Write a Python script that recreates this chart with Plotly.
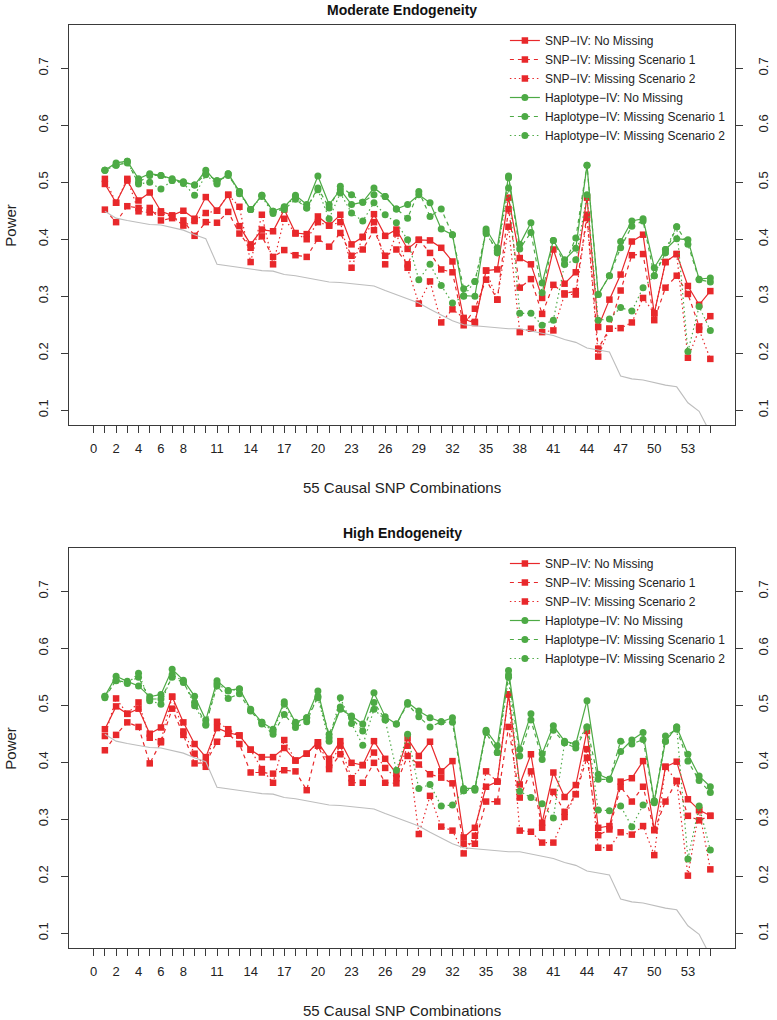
import plotly.graph_objects as go

# ---------------- data ----------------
x_combo = list(range(1, 56))
x_tick_vals = list(range(0, 56))
x_tick_shown = [0, 2, 4, 6, 8, 11, 14, 17, 20, 23, 26, 29, 32, 35, 38, 41, 44, 47, 50, 53]
y_tick_vals = [0.1, 0.2, 0.3, 0.4, 0.5, 0.6, 0.7]

series_names = ["SNP\u2212IV: No Missing", "SNP\u2212IV: Missing Scenario 1", "SNP\u2212IV: Missing Scenario 2",
                "Haplotype\u2212IV: No Missing", "Haplotype\u2212IV: Missing Scenario 1", "Haplotype\u2212IV: Missing Scenario 2"]

reference_line = [0.449, 0.437, 0.433, 0.429, 0.426, 0.425, 0.421, 0.416, 0.408, 0.401,
                  0.356, 0.353, 0.350, 0.347, 0.345, 0.344, 0.338, 0.336, 0.332, 0.329,
                  0.325, 0.324, 0.322, 0.320, 0.318, 0.310, 0.303, 0.296, 0.288, 0.277,
                  0.267, 0.257, 0.250, 0.248, 0.246, 0.245, 0.243, 0.243, 0.239, 0.234,
                  0.231, 0.224, 0.219, 0.209, 0.205, 0.202, 0.160, 0.155, 0.153, 0.148,
                  0.144, 0.141, 0.113, 0.098, 0.060]

# Moderate endogeneity
mod_snp_none = [0.497, 0.464, 0.503, 0.468, 0.482, 0.449, 0.442, 0.450, 0.436, 0.474, 0.450, 0.478,
                0.423, 0.391, 0.417, 0.414, 0.452,
                0.411, 0.409, 0.440, 0.424, 0.443, 0.391, 0.404, 0.444, 0.406, 0.417, 0.383, 0.399, 0.398, 0.385, 0.361, 0.260, 0.253, 0.345, 0.347, 0.473,
                0.367, 0.356, 0.297, 0.382, 0.322, 0.342, 0.473, 0.246, 0.294, 0.338, 0.396, 0.408, 0.270, 0.360, 0.374, 0.318, 0.285, 0.309]
mod_snp_s1 = [0.452, 0.430, 0.458, 0.455, 0.455, 0.433, 0.437, 0.433, 0.406, 0.430, 0.429, 0.448,
              0.410, 0.385, 0.405, 0.369, 0.381,
              0.372, 0.369, 0.401, 0.387, 0.411, 0.371, 0.382, 0.416, 0.371, 0.382, 0.356, 0.399, 0.376, 0.347, 0.342, 0.249, 0.278, 0.329, 0.294, 0.453,
              0.315, 0.330, 0.269, 0.320, 0.305, 0.309, 0.443, 0.208, 0.243, 0.310, 0.372, 0.374, 0.258, 0.315, 0.336, 0.304, 0.247, 0.265]
mod_snp_s2 = [0.506, 0.464, 0.506, 0.449, 0.447, 0.446, 0.440, 0.424, 0.432, 0.446, 0.450, 0.478,
              0.457, 0.360, 0.443, 0.356, 0.436,
              0.410, 0.400, 0.430, 0.424, 0.430, 0.350, 0.404, 0.430, 0.356, 0.410, 0.350, 0.287, 0.326, 0.254, 0.277, 0.262, 0.255, 0.345, 0.294, 0.422,
              0.237, 0.243, 0.237, 0.240, 0.303, 0.303, 0.437, 0.194, 0.243, 0.244, 0.254, 0.297, 0.270, 0.360, 0.374, 0.192, 0.241, 0.190]
mod_hap_none = [0.521, 0.534, 0.537, 0.506, 0.515, 0.512, 0.506, 0.501, 0.495, 0.521, 0.499, 0.515, 0.484, 0.452, 0.477, 0.449, 0.457,
                0.477, 0.461, 0.511, 0.461, 0.487, 0.461, 0.465, 0.490, 0.475, 0.453, 0.461, 0.478, 0.464, 0.418, 0.408, 0.301, 0.300, 0.418, 0.385, 0.511,
                0.391, 0.429, 0.323, 0.398, 0.364, 0.384, 0.530, 0.303, 0.336, 0.396, 0.432, 0.436, 0.350, 0.382, 0.401, 0.399, 0.330, 0.332]
mod_hap_s1 = [0.521, 0.530, 0.534, 0.500, 0.512, 0.512, 0.503, 0.500, 0.495, 0.515, 0.503, 0.512, 0.484, 0.452, 0.477, 0.449, 0.452,
              0.470, 0.455, 0.490, 0.455, 0.493, 0.478, 0.465, 0.478, 0.475, 0.453, 0.437, 0.484, 0.440, 0.453, 0.408, 0.313, 0.326, 0.414, 0.376, 0.508,
              0.383, 0.412, 0.306, 0.398, 0.356, 0.402, 0.530, 0.303, 0.336, 0.385, 0.423, 0.432, 0.336, 0.376, 0.422, 0.391, 0.329, 0.325]
mod_hap_s2 = [0.521, 0.530, 0.537, 0.497, 0.500, 0.488, 0.503, 0.498, 0.477, 0.513, 0.497, 0.515, 0.480, 0.452, 0.475, 0.445, 0.456,
              0.475, 0.455, 0.487, 0.436, 0.481, 0.446, 0.432, 0.464, 0.443, 0.429, 0.399, 0.329, 0.356, 0.319, 0.288, 0.300, 0.326, 0.410, 0.380, 0.490,
              0.270, 0.270, 0.249, 0.258, 0.356, 0.364, 0.478, 0.258, 0.260, 0.280, 0.274, 0.315, 0.336, 0.382, 0.422, 0.203, 0.282, 0.240]

# High endogeneity
high_snp_none = [0.458, 0.498, 0.485, 0.494, 0.450, 0.461, 0.515, 0.470, 0.432, 0.409, 0.460, 0.452, 0.447, 0.422, 0.409, 0.409, 0.425, 0.403,
                 0.415, 0.435, 0.406, 0.437, 0.399, 0.395, 0.437, 0.406, 0.380, 0.442, 0.411, 0.436, 0.384, 0.402, 0.268, 0.285, 0.357, 0.366, 0.519,
                 0.361, 0.414, 0.294, 0.382, 0.339, 0.360, 0.455, 0.285, 0.288, 0.366, 0.372, 0.402, 0.281, 0.392, 0.401, 0.335, 0.316, 0.306]
high_snp_s1 = [0.421, 0.448, 0.470, 0.462, 0.398, 0.435, 0.494, 0.448, 0.398, 0.399, 0.436, 0.450, 0.432, 0.382, 0.382, 0.380, 0.386, 0.384,
               0.351, 0.429, 0.388, 0.414, 0.364, 0.364, 0.399, 0.364, 0.363, 0.411, 0.396, 0.379, 0.373, 0.363, 0.257, 0.257, 0.331, 0.331, 0.462,
               0.338, 0.384, 0.285, 0.348, 0.313, 0.344, 0.408, 0.272, 0.282, 0.357, 0.331, 0.357, 0.281, 0.331, 0.367, 0.306, 0.298, 0.306]
high_snp_s2 = [0.446, 0.512, 0.485, 0.505, 0.443, 0.437, 0.515, 0.454, 0.415, 0.392, 0.471, 0.458, 0.447, 0.422, 0.388, 0.364, 0.439, 0.403,
               0.415, 0.435, 0.395, 0.429, 0.372, 0.395, 0.417, 0.390, 0.372, 0.429, 0.274, 0.341, 0.287, 0.280, 0.240, 0.271, 0.384, 0.366, 0.519,
               0.280, 0.278, 0.259, 0.259, 0.304, 0.344, 0.423, 0.250, 0.250, 0.277, 0.273, 0.288, 0.237, 0.392, 0.367, 0.201, 0.316, 0.212]
high_hap_none = [0.516, 0.551, 0.542, 0.534, 0.515, 0.519, 0.563, 0.544, 0.516, 0.474, 0.543, 0.526, 0.529, 0.493, 0.470, 0.458, 0.506, 0.470,
                 0.478, 0.525, 0.443, 0.493, 0.481, 0.467, 0.522, 0.480, 0.467, 0.505, 0.490, 0.478, 0.471, 0.478, 0.354, 0.354, 0.456, 0.429, 0.561,
                 0.423, 0.485, 0.415, 0.464, 0.437, 0.432, 0.508, 0.379, 0.370, 0.419, 0.439, 0.452, 0.332, 0.437, 0.462, 0.414, 0.376, 0.357]
high_hap_s1 = [0.513, 0.544, 0.540, 0.549, 0.511, 0.511, 0.549, 0.540, 0.505, 0.467, 0.534, 0.512, 0.520, 0.490, 0.467, 0.449, 0.484, 0.461,
               0.471, 0.516, 0.449, 0.497, 0.478, 0.455, 0.505, 0.475, 0.467, 0.502, 0.480, 0.462, 0.471, 0.470, 0.350, 0.351, 0.452, 0.417, 0.553,
               0.411, 0.474, 0.405, 0.456, 0.434, 0.425, 0.462, 0.370, 0.370, 0.437, 0.432, 0.440, 0.329, 0.446, 0.458, 0.402, 0.368, 0.347]
high_hap_s2 = [0.516, 0.543, 0.538, 0.556, 0.508, 0.502, 0.554, 0.542, 0.499, 0.465, 0.538, 0.525, 0.528, 0.491, 0.470, 0.454, 0.502, 0.467,
               0.478, 0.513, 0.437, 0.513, 0.468, 0.430, 0.493, 0.474, 0.386, 0.449, 0.354, 0.361, 0.323, 0.325, 0.350, 0.354, 0.454, 0.417, 0.549,
               0.349, 0.338, 0.327, 0.302, 0.434, 0.432, 0.462, 0.316, 0.315, 0.323, 0.287, 0.325, 0.332, 0.437, 0.462, 0.230, 0.323, 0.246]

panels = [
    ("Moderate Endogeneity", [mod_snp_none, mod_snp_s1, mod_snp_s2, mod_hap_none, mod_hap_s1, mod_hap_s2]),
    ("High Endogeneity", [high_snp_none, high_snp_s1, high_snp_s2, high_hap_none, high_hap_s1, high_hap_s2]),
]

# ---------------- styles ----------------
RED = "#E8282B"
GREEN = "#4DAA45"
GRAY = "#BDBDBD"
AX = "#3a3a3a"
FONT = "Liberation Sans"
styles = [
    (RED, "solid", "square", 6.5),
    (RED, "4px,4px", "square", 6.5),
    (RED, "1.5px,3px", "square", 6.5),
    (GREEN, "solid", "circle", 7),
    (GREEN, "4px,4px", "circle", 7),
    (GREEN, "1.5px,3px", "circle", 7),
]

W, H = 777, 1020
PL, PR = 69.3, 735.0
panel_tops = [25, 548]
panel_h = 400
y_range = [0.074, 0.776]

fig = go.Figure()

for p, (title, series) in enumerate(panels):
    xa = "x" if p == 0 else "x2"
    ya = "y" if p == 0 else "y2"
    ya_r = "y3" if p == 0 else "y4"
    leg = "legend" if p == 0 else "legend2"
    fig.add_trace(go.Scatter(x=x_combo, y=reference_line, mode="lines",
                             line=dict(color=GRAY, width=1.1), xaxis=xa, yaxis=ya_r,
                             showlegend=False, hoverinfo="skip"))
    for name, vals, (col, dash, sym, ms) in zip(series_names, series, styles):
        fig.add_trace(go.Scatter(x=x_combo, y=vals, mode="lines+markers", name=name,
                                 line=dict(color=col, width=1.2, dash=dash),
                                 marker=dict(symbol=sym, size=ms, color=col, line=dict(width=0)),
                                 xaxis=xa, yaxis=ya, legend=leg))

def dom(top):
    return [1 - (top + panel_h) / H, 1 - top / H]

x_text = [str(v) if v in x_tick_shown else "" for v in x_tick_vals]
common = dict(showline=True, linecolor=AX, linewidth=1, ticks="outside", ticklen=7,
              tickcolor=AX, tickwidth=1, showgrid=False, zeroline=False,
              tickfont=dict(size=13, color="#222", family=FONT))
xax = dict(common, range=[-2.2, 57.2], tickmode="array", tickvals=x_tick_vals, ticktext=x_text,
           mirror=True, ticklabelstandoff=4)
yax = dict(common, range=y_range, tickmode="array", tickvals=y_tick_vals,
           ticktext=[f"{v:.1f}" for v in y_tick_vals], tickangle=-90, mirror=True, ticklabelstandoff=8)
yax_r = dict(yax, side="right", mirror=False, ticklabelstandoff=9)

leg_x = (505 - PL) / (PR - PL)
leg_font = dict(size=12, family=FONT, color="#222")
fig.update_layout(
    width=W, height=H,
    margin=dict(l=PL, r=W - PR, t=0, b=0),
    plot_bgcolor="white", paper_bgcolor="white",
    font=dict(family=FONT, color="#222"),
    xaxis=dict(xax, domain=[0, 1], anchor="y"),
    yaxis=dict(yax, domain=dom(panel_tops[0]), anchor="x"),
    yaxis3=dict(yax_r, overlaying="y", anchor="x"),
    xaxis2=dict(xax, domain=[0, 1], anchor="y2"),
    yaxis2=dict(yax, domain=dom(panel_tops[1]), anchor="x2"),
    yaxis4=dict(yax_r, overlaying="y2", anchor="x2"),
    legend=dict(x=leg_x, y=1 - (panel_tops[0] + 1) / H, xanchor="left", yanchor="top",
                bgcolor="rgba(0,0,0,0)", font=leg_font, tracegroupgap=0, itemwidth=30),
    legend2=dict(x=leg_x, y=1 - (panel_tops[1] + 1) / H, xanchor="left", yanchor="top",
                 bgcolor="rgba(0,0,0,0)", font=leg_font, tracegroupgap=0, itemwidth=30),
    showlegend=True,
)

annotations = []
for p, (title, _) in enumerate(panels):
    top = panel_tops[p]
    annotations.append(dict(text=f"<b>{title}</b>", x=0.5, y=1 - (top - 15) / H, xref="paper", yref="paper",
                            showarrow=False, font=dict(size=14, family=FONT, color="#111"),
                            xanchor="center", yanchor="middle"))
    annotations.append(dict(text="55 Causal SNP Combinations", x=0.5, y=1 - (top + panel_h + 62) / H,
                            xref="paper", yref="paper", showarrow=False,
                            font=dict(size=15, family=FONT, color="#222"), xanchor="center", yanchor="middle"))
    annotations.append(dict(text="Power", x=(10 - PL) / (PR - PL), y=1 - (top + panel_h / 2) / H,
                            xref="paper", yref="paper", showarrow=False, textangle=-90,
                            font=dict(size=15, family=FONT, color="#222"), xanchor="center", yanchor="middle"))
fig.update_layout(annotations=annotations)

# remove the browser's default 8px page margin so the figure fills the window exactly
fig.write_html("out.html", config={"displayModeBar": False},
               post_script="document.body.style.margin='0px';")
